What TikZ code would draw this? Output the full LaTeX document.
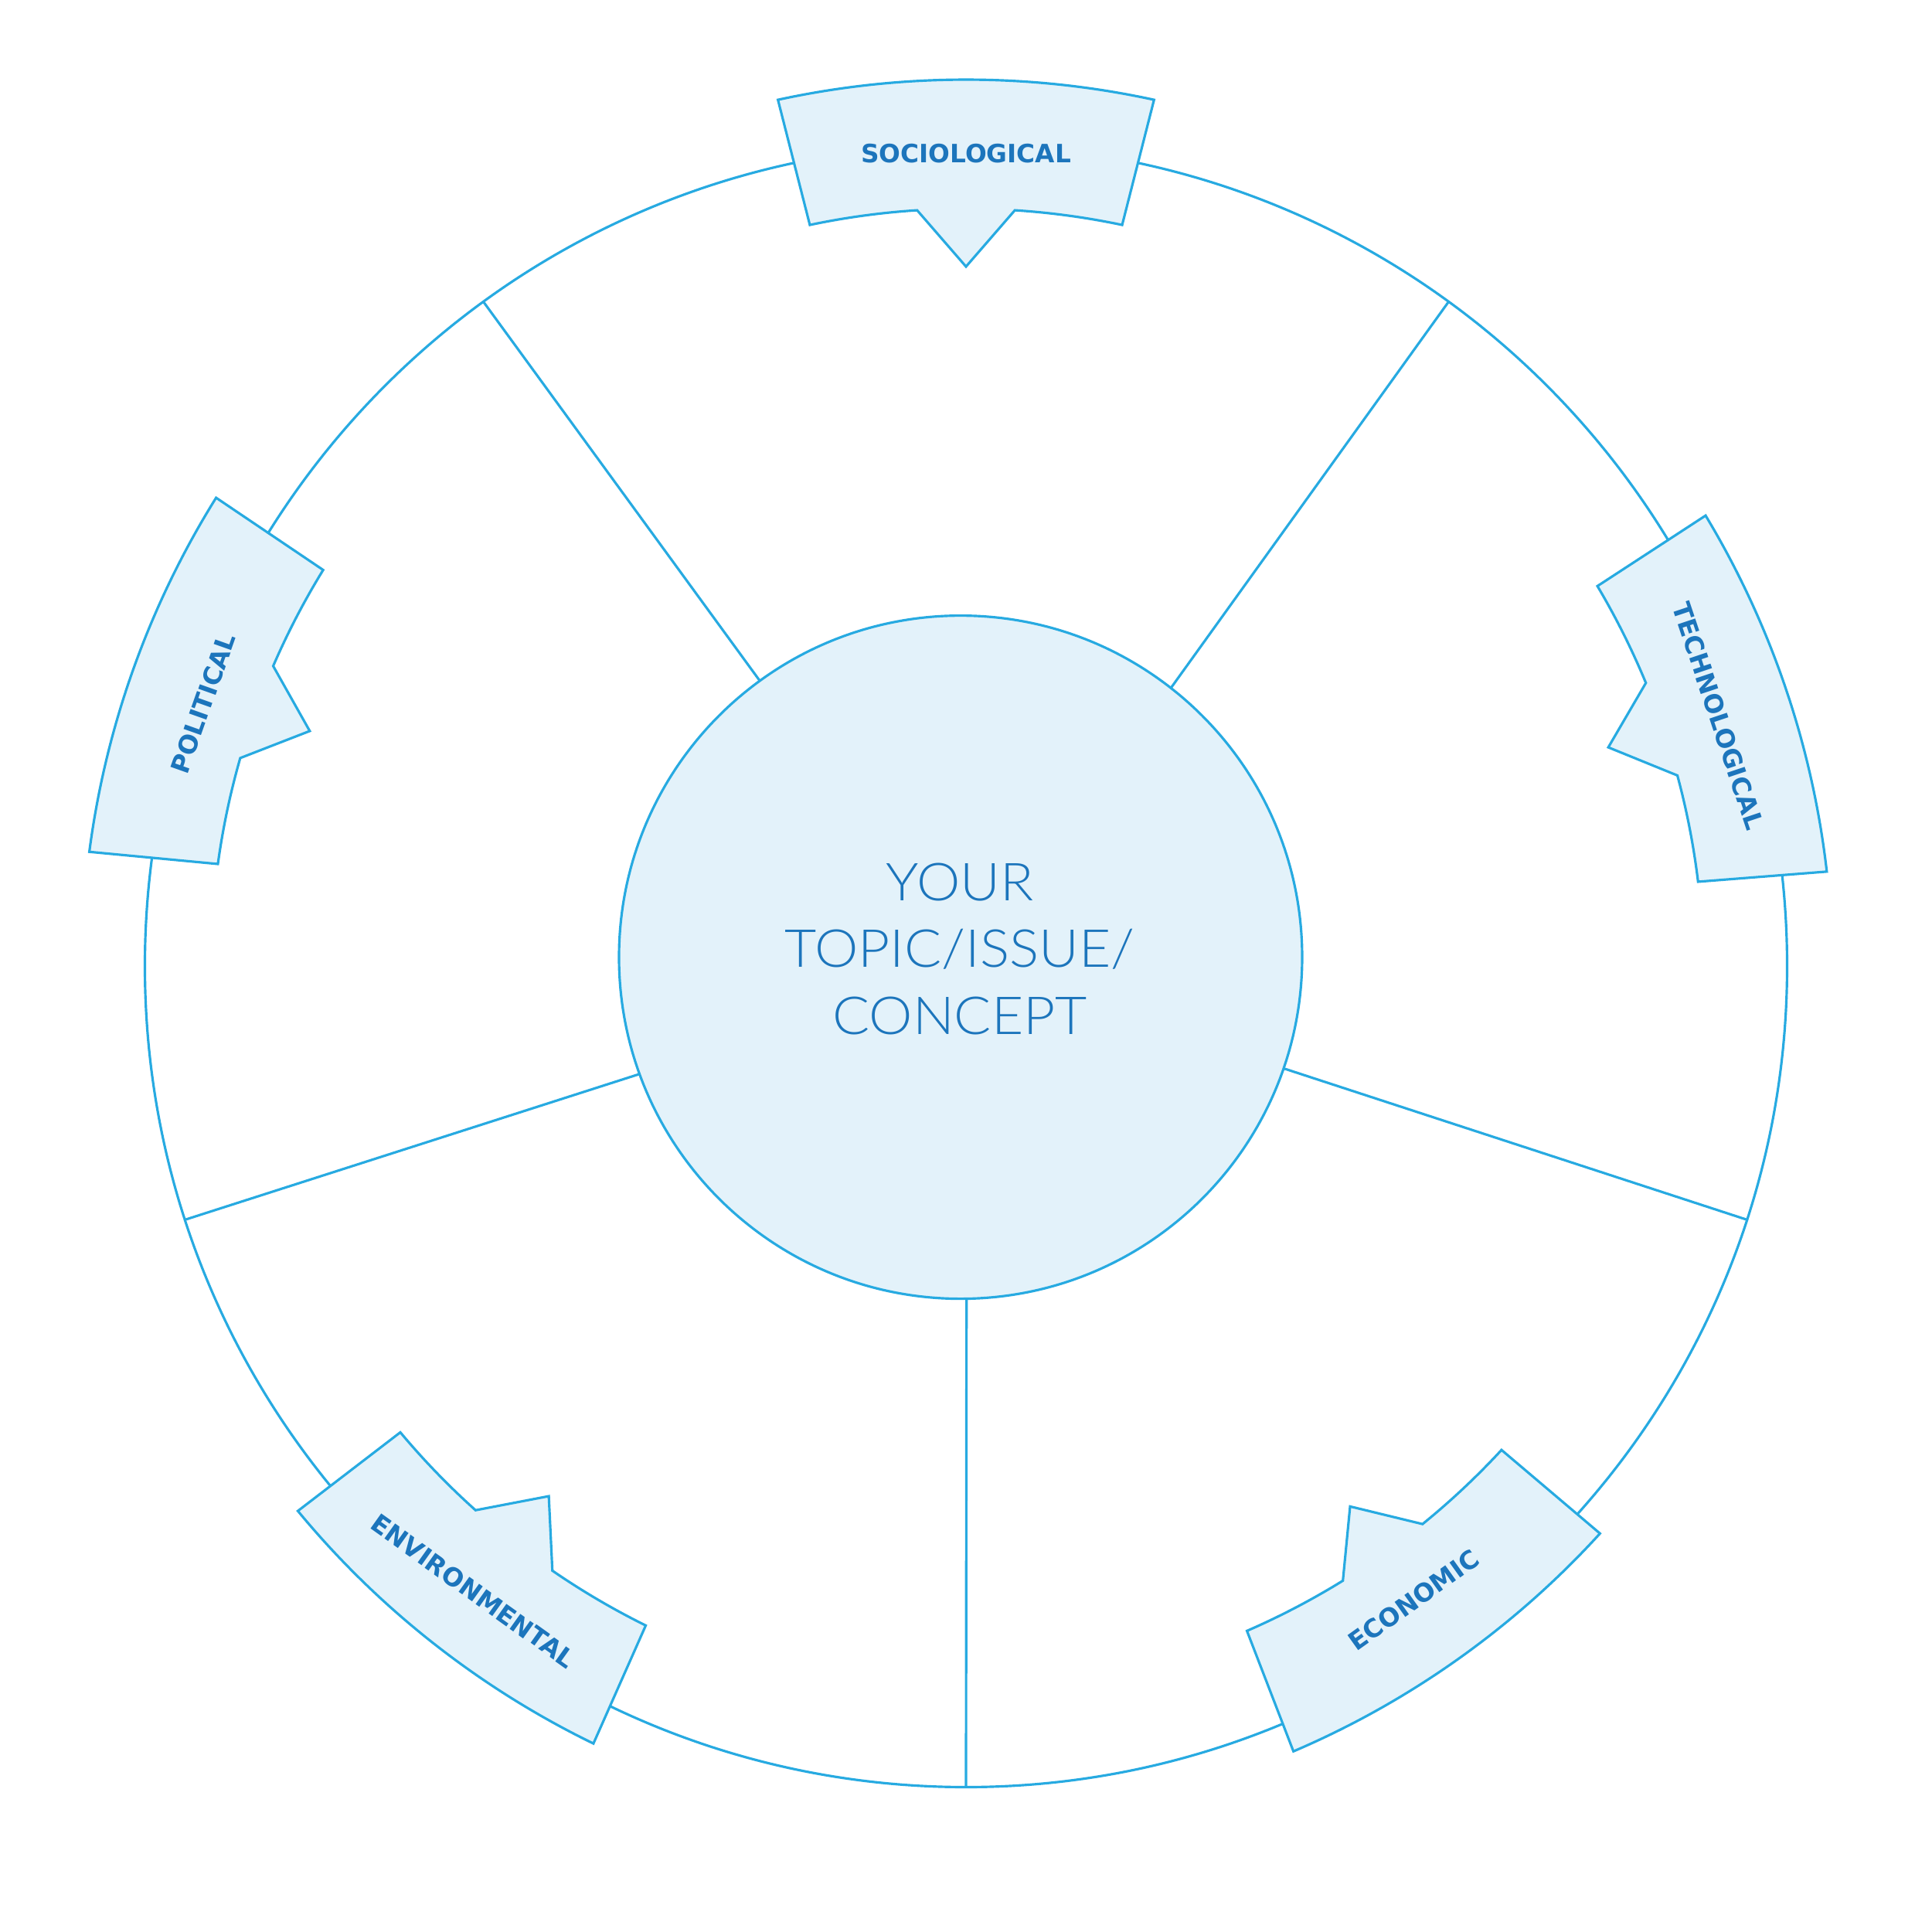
\documentclass[tikz,border=0pt]{standalone}
\usepackage{fontspec}
\setmainfont{Liberation Sans}
\IfFontExistsTF{Lato Light}
  {\newfontfamily\thinfont[FakeStretch=1.05]{Lato Light}}
  {\newfontfamily\thinfont[FakeStretch=1.05]{Lato}}
\newfontfamily\heavyfont{DejaVu Sans}
\definecolor{rim}{RGB}{39,170,225}
\definecolor{pale}{RGB}{227,242,250}
\definecolor{ink}{RGB}{28,117,188}
\tikzset{
  rimline/.style={draw=rim, line width=0.9pt},
  tabshape/.style={rimline, fill=pale, line join=miter},
  tablabel/.style={text=ink, font=\heavyfont\bfseries\fontsize{9.3}{11}\selectfont, inner sep=0pt},
  % one label tab: annular sector with a pointer towards the hub;
  % the argument pushes it radially (in cm)
  petal/.pic={
    \begin{scope}[yshift=#1 cm]
      \path[tabshape] (102.25:11.47)
        arc[start angle=102.25, end angle=77.75, radius=11.47]
        -- (78.1:9.8) arc[start angle=78.1, end angle=86.3, radius=9.8]
        -- (0,9.05)
        -- (93.7:9.8) arc[start angle=93.7, end angle=101.9, radius=9.8]
        -- cycle;
    \end{scope}
  }
}
\begin{document}
\begin{tikzpicture}
\useasboundingbox (-12.5,-12.5) rectangle (12.5,12.5);

% outer wheel and central hub
\node[circle, rimline, minimum size=21.25cm, inner sep=0pt, outer sep=0pt] (wheel) at (0,0) {};
\node[circle, rimline, fill=pale, minimum size=8.84cm, inner sep=0pt, outer sep=0pt] (hub) at (-0.07,0.114) {};

% spokes from the hub to the wheel
\draw[rimline] (hub.271) -- (wheel.270);
\draw[rimline] (hub.341) -- (wheel.342);
\draw[rimline] (hub.52) -- (wheel.54);
\draw[rimline] (hub.126) -- (wheel.126);
\draw[rimline] (hub.200) -- (wheel.198);

\node[text=ink, font=\thinfont\fontsize{19.3}{24.66}\selectfont, align=center, inner sep=0pt]
  (topic) at (-0.08,0.22) {YOUR\\TOPIC/ISSUE/\\CONCEPT};

% label tabs
\pic[rotate=0] at (0,0) {petal=0};
\pic[rotate=-71.2] at (0,0) {petal=-0.27};
\pic[rotate=70.3] at (0,0) {petal=-0.03};
\pic[rotate=141.8] at (0,0) {petal=-0.32};
\pic[rotate=215.4] at (0,0) {petal=-0.47};

\node[tablabel] (soc) at (90:10.51) {SOCIOLOGICAL};
\node[tablabel, rotate=-71.5] (tech) at (18.4:10.26) {TECHNOLOGICAL};
\node[tablabel, rotate=70.5] (pol) at (161:10.44) {POLITICAL};
\node[tablabel, rotate=-35.5] (env) at (231.75:10.30) {ENVIRONMENTAL};
\node[tablabel, rotate=35.5] (eco) at (305.25:10.04) {ECONOMIC};
\end{tikzpicture}
\end{document}
